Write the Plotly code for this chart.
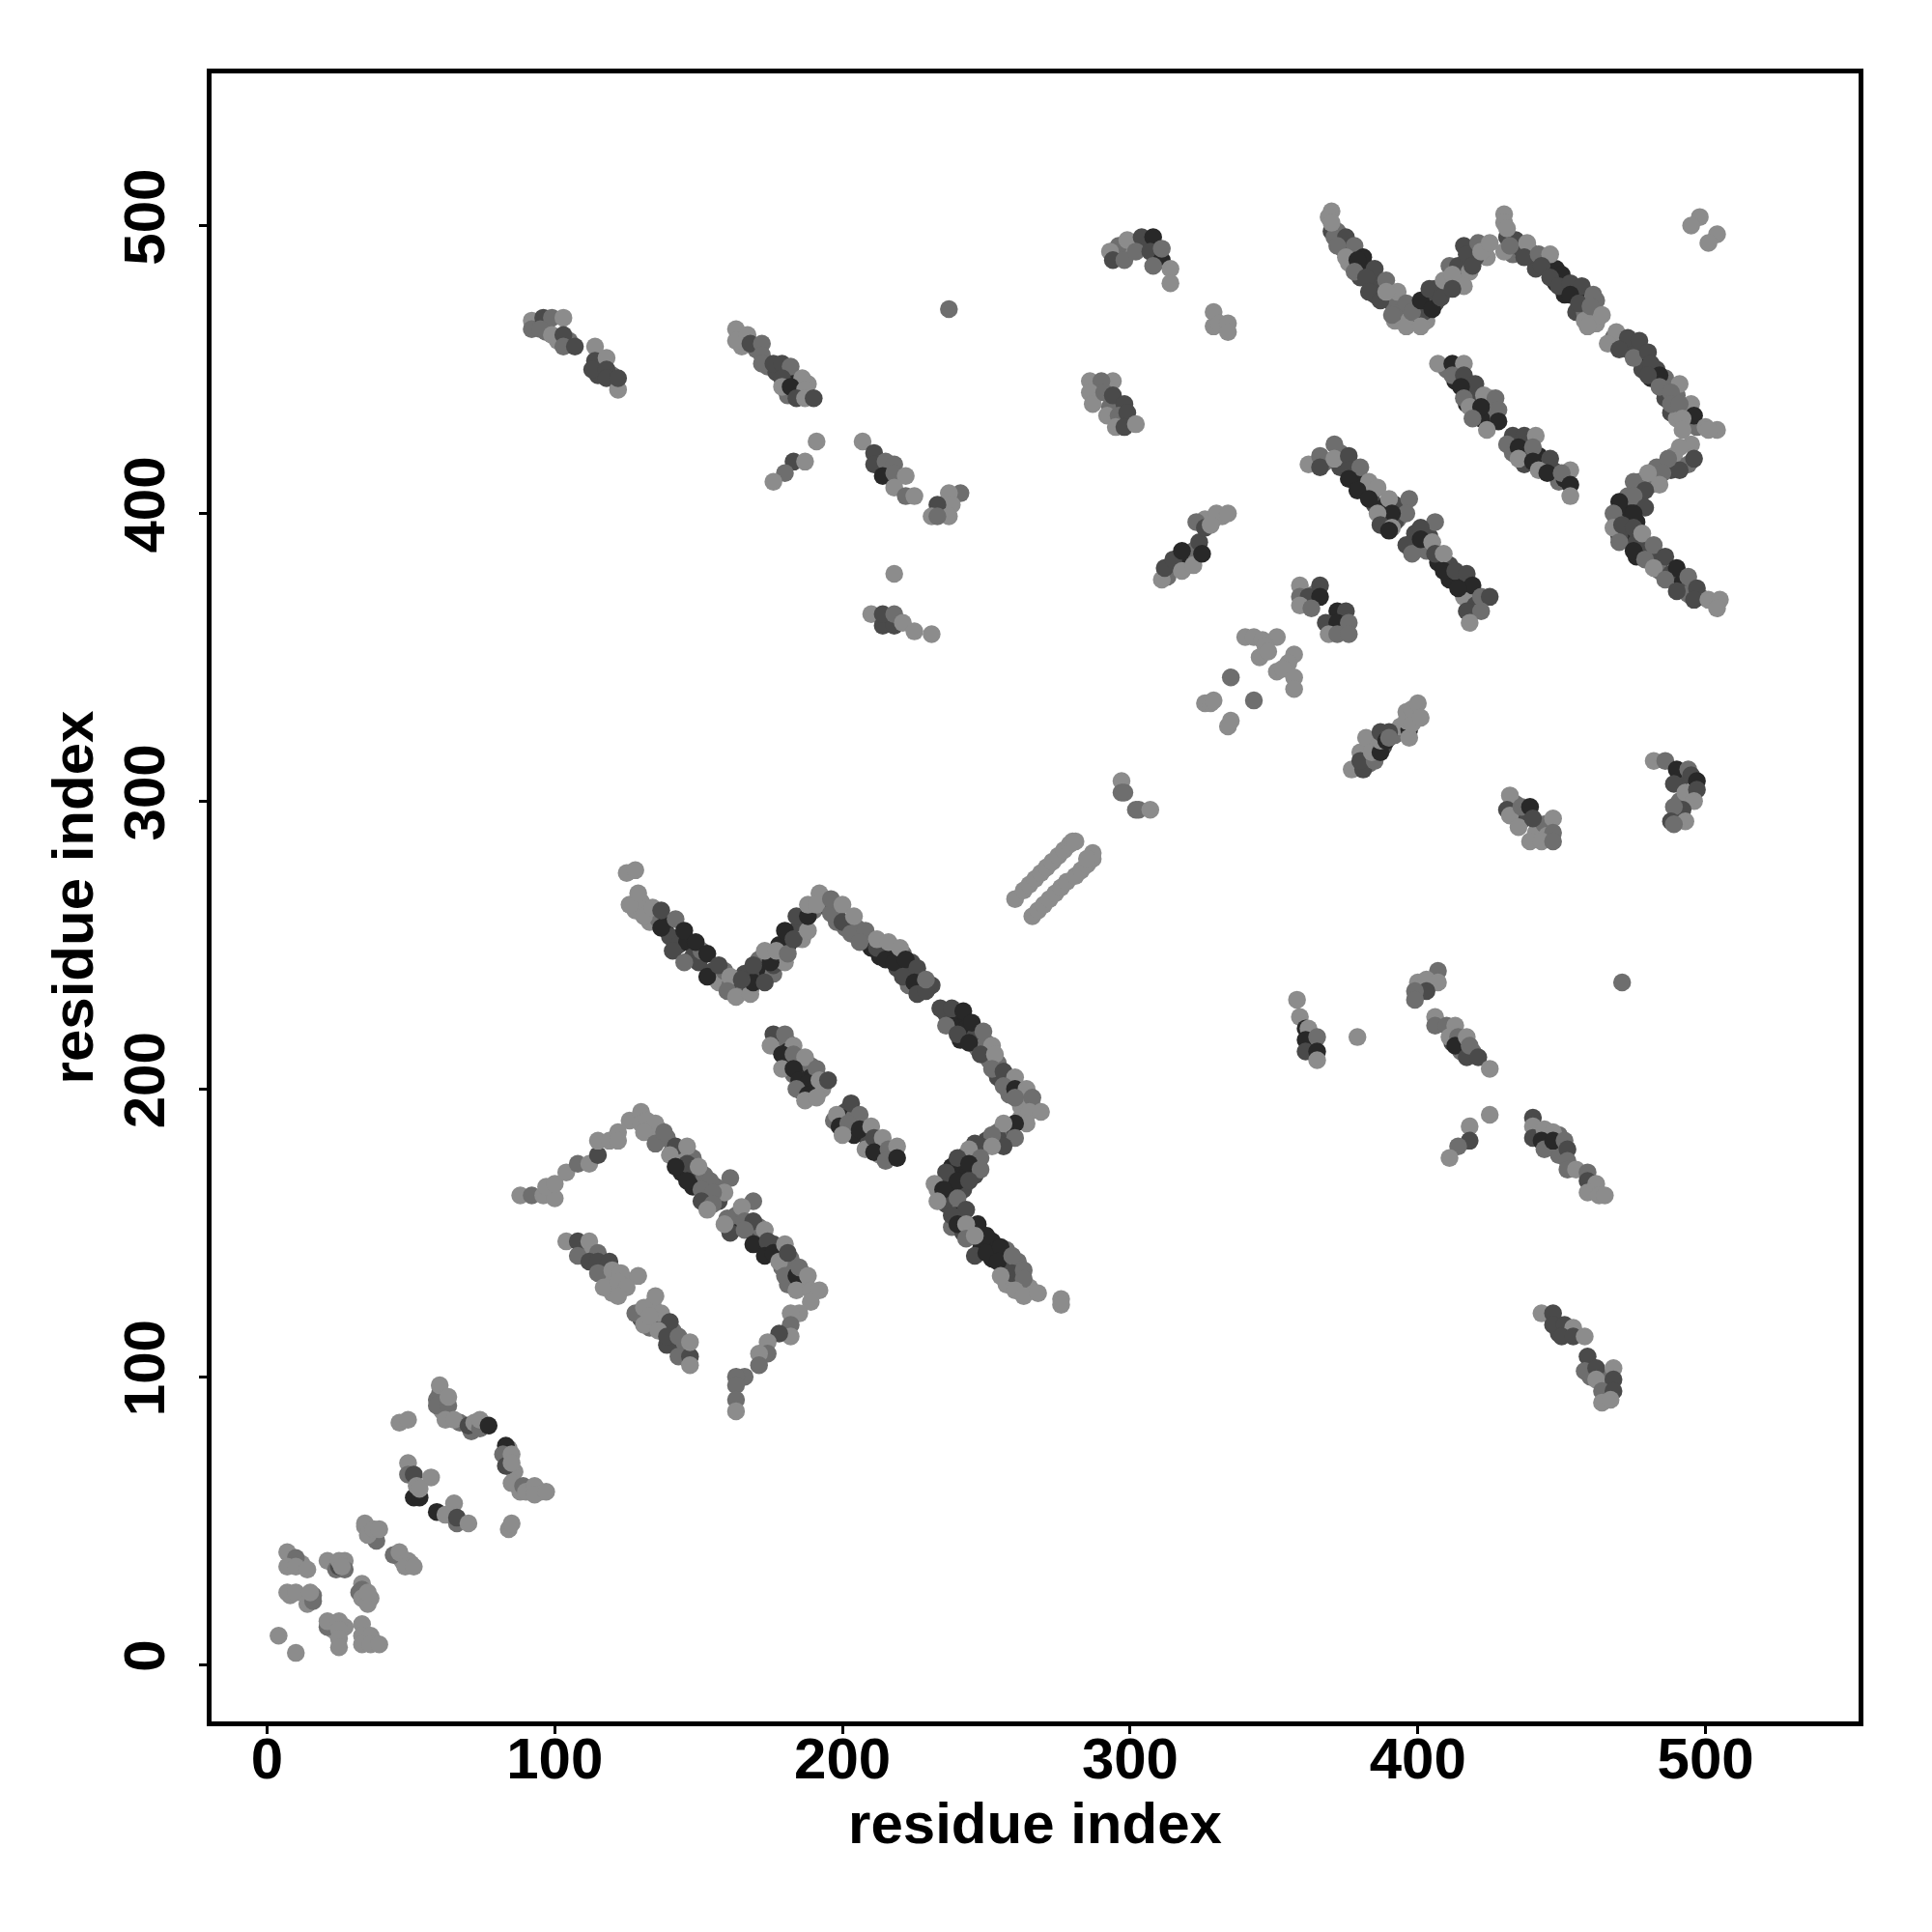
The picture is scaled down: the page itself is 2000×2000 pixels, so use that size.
import plotly.graph_objects as go

# each contact: (residue i, residue j, contact level 1-4)
# lower layer of contacts, seen mostly at the edges of the bands
under_low = [(9,36,1),(12,35,1),(8,24,1),(16,24,2),(23,35,1),(27,36,1),(27,33,2),(33,28,1),(34,24,1),(36,23,1),(23,12,1),(27,13,1),(35,8,1),(37,8,1),(36,47,1),(37,46,1),(47,36,1),(50,35,1),(60,94,2),(61,88,1),(67,84,2),(71,81,2),(84,75,1),(86,67,1),(88,60,1),(95,60,1)]
under_arc_a = [(128,262,1),(130,265,1),(133,258,1),(136,259,2),(139,258,4),(140,253,3),(143,250,3),(146,251,4),(148,246,3),(150,244,3),(151,248,2),(155,241,3),(157,237,1),(159,241,2),(161,236,2),(164,235,3),(166,234,2),(166,240,3),(168,235,3),(171,240,3),(171,245,2),(174,241,4),(176,240,2),(176,243,3),(178,245,1),(178,250,4),(181,250,4),(180,244,1),(184,255,3),(186,257,3),(186,252,1),(190,262,2),(193,265,1),(195,263,3),(198,262,3),(198,258,2),(201,256,2),(205,256,2),(208,251,3),(210,252,2),(210,249,4),(213,246,4),(214,249,2),(217,247,4),(219,242,3),(221,247,2),(223,241,4),(224,244,3),(227,238,4),(228,236,3),(223,236,2),(231,236,3)]
under_arc_b = [(236,226,3),(240,225,4),(238,222,4),(243,221,4),(241,217,4),(246,218,3),(247,214,2),(250,216,2),(251,210,2),(254,209,2),(254,204,3),(258,203,2),(258,198,2),(262,198,2),(262,194,1),(266,194,1),(262,190,1),(258,186,3),(254,185,2),(254,183,3),(250,182,3),(246,181,3),(246,177,2),(243,177,3),(242,172,4),(246,170,3),(238,173,4),(236,168,3),(238,165,4),(242,165,3),(235,163,2),(233,165,1),(236,160,3),(241,158,2),(240,156,4),(238,152,2),(242,150,3),(245,151,4),(248,147,3),(249,146,2),(252,147,4),(248,144,4),(252,141,4),(257,139,3),(257,144,2),(261,140,2),(261,133,1),(265,131,1),(257,132,1)]
under_inner_up = [(178,216,3),(181,216,4),(178,214,2),(181,213,4),(185,209,3),(181,209,4),(187,206,4),(189,208,2),(183,205,2),(189,204,4),(186,199,3),(190,199,4),(193,200,1),(186,202,4),(201,192,3),(200,190,4),(204,189,4),(197,189,2),(204,184,4),(208,184,4),(209,181,3),(213,180,3),(216,177,4),(213,177,1),(218,178,1),(204,190,2)]
under_sheet = [(136,186,1),(139,183,2),(141,179,2),(143,176,3),(144,178,1),(148,176,2),(144,171,4),(148,170,3),(148,166,4),(152,170,2),(152,163,3),(156,166,2),(157,161,3),(153,162,2),
 (163,152,4),(163,156,2),(168,152,2),(171,149,3),(171,152,2),(176,146,3),(174,143,4),(178,141,3),(177,145,3),(179,138,2),(182,141,2),(183,137,2),(181,132,2),(186,136,1),(186,132,1),
 (110,144,2),(113,143,1),(117,138,2),(121,135,1),(119,133,1),(120,129,1),(124,134,1),(130,120,3),(133,117,2),(134,125,1),(138,118,3),(141,112,3),(141,116,2),(145,110,3),(145,112,2)]
under_arc_c = [(370,498,3),(372,498,2),(374,492,3),(376,487,1),(378,490,4),(380,486,4),(380,482,3),(383,485,4),(385,481,3),(385,476,3),(387,479,3),(390,474,3),(392,472,2),(392,467,1),(394,470,2),(397,467,1),(400,468,4),(403,467,1),(402,470,3),(403,474,4),(406,473,3),(408,478,1),(406,478,3),(414,482,1),(411,486,2),(414,486,3),(418,484,1),(416,493,3),(424,489,1),(420,489,3),(431,496,3),(433,490,2),(436,492,3),(439,491,2),(441,485,3),(444,488,3),(448,485,4),(448,480,4),(451,476,4),(451,480,3),(455,476,4),(455,470,3),(458,470,2),(462,474,2),(458,467,1),(462,466,1)]
under_arc_d = [(468,461,2),(470,461,3),(473,457,3),(476,457,3),(478,453,4),(478,450,3),(483,450,3),(481,447,4),(486,447,2),(486,440,3),(490,441,2),(488,435,3),(493,436,3),(490,433,1),(494,431,2),(497,430,2),(489,420,1),(494,417,2),(488,415,3),(483,416,2),(481,410,2),(477,411,2),(477,405,3),(472,403,4),(472,399,4),(473,406,2),(476,397,4),(469,397,2),(473,392,4),(470,392,3),(476,390,3),(478,388,3),(476,385,4),(481,385,3),(484,383,3),(484,380,2),(488,379,3),(492,376,4),(493,373,3),(494,372,2),(498,371,2)]
under_far = [(410,450,2),(414,450,3),(413,446,4),(418,442,3),(417,438,4),(420,440,3),(424,437,3),(425,433,2),(422,433,4),(425,440,1),(434,424,3),(438,424,3),(433,421,2),(438,420,3),(442,420,4),(437,417,3),(444,416,2),(447,415,3),(449,411,2),(451,412,4)]
under_center = [(368,418,2),(373,421,2),(373,416,3),(378,413,3),(380,412,4),(381,408,3),(384,407,2),(385,403,3),(388,402,4),(392,403,3),(393,398,2),(388,398,3),(392,397,3),(404,392,3),(399,393,3),(403,387,2),(407,383,4),(411,382,3),(411,377,4),(415,377,4),(418,373,2),(419,370,2),(416,371,1),(420,368,3)]
under_misc = [(383,313,2),(388,319,3),(392,323,2),(383,320,2),(394,326,1),(397,329,2),(399,330,1),(396,331,1),(313,378,2),(316,382,2),(320,384,4),(322,387,2),(326,398,1),(329,398,1),(332,399,1),
 (94,466,2),(97,463,2),(101,460,1),(105,460,2),(116,452,2),(115,448,3),(120,448,2),(165,458,1),(170,457,2),(174,451,2),(177,449,3),(181,448,2),(183,447,4),(184,443,2),(181,441,2),(188,445,1),
 (434,299,2),(437,294,3),(441,289,1),(444,292,2),(445,288,1),(491,307,3),(495,302,2),(491,300,2),(491,295,1),(296,490,1),(300,491,1),(305,493,3),(296,493,2),(288,443,2),(293,437,2),(296,437,2),
 (361,369,3),(364,372,2),(370,360,4),(374,360,3),(373,364,4),(363,216,4),(363,213,2),(412,216,3),(415,213,2),(419,213,2),(442,184,2),(449,184,2),(446,180,3),(449,177,2),(460,165,1),(449,115,3),(452,116,1),(460,100,2),(466,97,3),(466,100,2)]

corner_low = [(4,10,1),(10,4,1),(7,39,1),(10,37,2),(7,34,1),(10,34,1),(14,33,1),(7,25,1),(10,25,1),(14,21,1),(16,22,2),(15,25,1),
 (21,36,1),(24,33,2),(25,34,3),(25,36,1),(26,34,1),(33,26,2),(32,25,2),(33,23,1),(35,21,1),(35,25,1),(21,13,2),(21,15,1),(25,15,1),(25,12,1),(25,9,1),(25,6,1),
 (33,14,1),(33,10,1),(36,10,1),(33,7,1),(36,7,1),(39,7,1),(38,43,2),(34,49,1),(34,48,1),(35,45,1),(37,47,1),(39,47,1),
 (44,38,2),(46,39,1),(49,36,1),(48,34,1),(51,34,1),(46,84,1),(49,85,1)]
corner_mid = [(59,92,2),(59,90,2),(60,97,1),(63,90,2),(63,93,1),(62,85,1),(65,85,1),(70,83,3),(72,84,1),(74,82,2),(74,85,1),(77,83,4),
 (83,76,4),(82,73,2),(83,69,3),(85,73,1),(85,70,1),(85,63,1),(89,62,2),(90,60,1),(93,62,1),(93,59,1),(97,60,1),
 (49,70,1),(49,66,2),(51,66,3),(57,65,1),(51,58,4),(53,58,4),(52,62,1),(53,61,1),(59,53,4),(62,52,1),(65,56,1),(66,49,2),(66,51,3),(70,49,1),(84,47,1),(85,49,1)]
sheet_left = [(88,163,1),(92,163,2),(96,163,1),(100,162,1),(97,166,1),(100,167,1),(104,171,1),(108,174,2),(112,174,1),(115,177,3),(115,182,1),(119,182,1),(122,185,1),(122,182,1),
 (126,189,1),(130,192,1),(130,188,1),(132,189,1),(135,188,1),(131,185,1),(135,181,2),(138,185,2),(142,180,3),(146,180,1),(140,177,1),(146,174,3),(142,173,4),(150,173,1),
 (146,168,4),(154,168,2),(161,169,2),(159,164,1),(151,165,2),(155,164,2),(151,161,3),(155,160,2),(153,158,1)]
sheet_right = [(169,161,2),(165,159,1),(161,150,3),(160,155,2),(159,153,1),(166,154,2),(169,154,3),(166,151,2),(173,151,1),(169,146,4),(174,147,3),(173,142,4),(176,143,4),(180,146,1),(178,140,1),(181,143,3),
 (180,135,2),(184,135,4),(185,138,2),(188,135,1),(184,130,1),(189,130,1),(192,130,1),(189,126,1),(185,122,1),(182,122,1),(182,118,2),(182,114,1),(178,115,3),(174,112,1),(174,108,2),(171,108,1),(171,104,2),
 (166,100,2),(163,100,2),(163,97,2),(163,92,2),(163,88,1)]
inner_low_a = [(104,147,1),(108,147,3),(112,147,1),(108,142,2),(115,143,2),(112,140,3),(115,140,3),(119,140,3),(115,136,2),(120,137,1),(123,136,1),(117,131,1),(122,133,1),(129,135,1),(125,131,1),(122,128,1)]
inner_low_b = [(135,128,1),(128,122,2),(131,124,1),(131,118,1),(137,122,1),(133,121,1),(140,119,3),(136,116,1),(139,111,3),(139,114,3),(143,114,2),(143,107,2),(147,107,3),(147,112,1),(147,104,1)]
arc_a = [(125,275,1),(128,276,1),(126,264,1),(129,268,1),(131,260,1),(134,263,1),(137,256,4),(137,262,3),(142,259,2),(141,248,3),(145,255,4),(149,251,4),(145,244,2),(153,247,4),(153,239,4),(157,243,3),
 (161,239,1),(160,234,2),(163,232,1),(168,233,1),(169,237,4),(165,238,3),(169,243,3),(173,237,3),(175,244,4),(173,248,1),(177,248,1),(181,247,2),(180,255,4),(183,252,3),(188,255,1),(184,260,3),(188,260,4),(188,264,1),(192,268,1),(191,264,1),
 (196,261,2),(196,266,2),(200,264,1),(200,258,3),(204,260,1),(203,254,2),(208,255,2),(206,251,2),(212,249,3),(212,252,1),(215,245,4),(216,251,1),(218,244,4),(220,249,1),(222,245,4),(221,239,3),(226,242,3),(225,237,4),(226,233,3),(229,234,3),(229,238,2)]
arc_b = [(234,228,3),(238,228,3),(242,227,4),(245,223,4),(236,222,2),(240,219,3),(244,216,4),(249,220,2),(252,215,1),(248,212,3),(253,212,1),(252,207,2),(256,206,3),(260,204,1),(256,201,2),(260,200,4),(264,200,1),(260,197,2),(266,197,2),(265,192,1),(269,192,1),
 (264,188,1),(260,188,4),(256,188,1),(260,183,2),(256,180,3),(252,184,2),(248,180,3),(244,179,1),(252,180,1),(240,176,3),(248,176,2),(244,174,4),(236,171,3),(248,172,2),(240,168,4),(244,168,3),(232,167,1),(235,165,4),(240,162,2),(233,161,1),
 (243,158,3),(238,156,3),(240,153,4),(247,153,4),(243,153,1),(243,148,2),(250,149,4),(246,149,1),(246,142,3),(250,143,4),(255,145,4),(254,140,4),(259,142,2),(259,136,3),(263,137,2),(263,134,2),(255,135,1),(260,130,1),(263,128,1),(268,129,1),(276,127,1),(276,125,1)]
inner_up_a = [(176,219,3),(180,219,2),(175,215,1),(183,215,1),(179,212,4),(183,212,2),(187,211,1),(179,207,1),(183,207,4),(191,207,2),(185,203,4),(188,202,4),(184,200,2),(192,203,1),(188,198,4),(195,203,3),(187,196,1),(191,197,1)]
inner_up_b = [(203,195,3),(198,191,1),(206,191,2),(199,187,4),(202,188,2),(200,184,1),(206,186,4),(210,187,1),(208,179,1),(211,183,3),(214,183,1),(211,178,4),(216,179,2),(219,180,1),(215,175,2),(219,176,4)]
strand_one = [(260,266,1),(263,269,1),(265,271,1),(267,273,1),(269,275,1),(271,277,1),(273,279,1),(275,281,1),(277,283,1),(279,285,1),(280,286,1),(281,286,1)]
strand_two = [(266,260,1),(268,262,1),(270,264,1),(272,266,1),(274,268,1),(276,270,1),(278,272,1),(281,274,1),(283,276,1),(285,278,1),(287,280,1),(287,282,1),(285,280,1)]
linker = [(297,307,1),(297,303,2),(298,303,2),(302,297,2),(303,297,2),(307,297,1),(326,334,1),(328,334,1),(329,335,1),(334,326,1),(335,328,1),(335,343,2),(343,335,2),
 (340,357,1),(343,357,1),(346,356,1),(351,357,1),(347,354,1),(345,350,1),(348,352,1),(357,351,1),(355,348,1),(351,345,1),(353,346,1),(357,343,1),(357,339,1)]
block_365 = [(359,375,1),(359,371,2),(362,371,3),(359,368,1),(366,375,3),(366,371,4),(363,367,2),(372,366,4),(375,366,3),(368,362,3),(372,362,4),(376,362,2),(369,358,1),(372,358,2),(376,358,2)]
band_385 = [(377,311,1),(381,311,3),(380,317,1),(380,314,3),(385,314,2),(382,322,1),(384,317,1),(387,317,4),(387,321,1),(387,324,3),(390,324,3),(389,321,4),(390,322,2),(397,325,4),(396,328,1),(397,322,1),(398,327,1),(398,332,1),(400,334,1),(401,329,1)]
right_mid_a = [(358,231,1),(359,225,1),(361,221,4),(362,221,1),(361,217,4),(365,218,2),(361,213,3),(365,213,4),(365,210,1),(379,218,1),
 (407,241,2),(400,237,1),(403,238,1),(407,237,1),(403,234,3),(399,234,2),(399,231,2),
 (406,225,1),(406,222,2),(410,222,2),(413,222,1),(411,218,1),(414,218,2),(413,215,4),(417,218,1),(417,211,3),(418,215,2),(421,211,3),(425,207,1)]
right_mid_b = [(425,191,1),(418,187,1),(418,182,3),(414,180,2),(411,176,1),(440,190,3),(440,187,1),(440,183,3),(444,186,1),(447,185,1),(443,182,4),(444,179,2),(447,182,4),(451,182,2),(452,179,3),(452,175,2),(452,172,2),(455,172,1),(459,171,2),(459,168,3),(462,167,1),(459,164,1),(463,163,1),(465,163,1)]
right_low = [(443,122,1),(447,122,3),(447,118,3),(451,118,3),(454,117,1),(450,114,3),(454,114,3),(458,114,1),(459,107,3),(458,102,2),(462,103,3),(468,103,1),(462,99,1),(468,99,3),(464,95,2),(468,95,3),(464,91,1),(467,92,1),(471,237,2)]
block_440 = [(432,302,1),(431,297,3),(432,295,1),(436,298,2),(439,298,4),(435,291,1),(440,294,3),(439,286,1),(447,294,1),(447,289,2),(443,286,1),(447,286,2)]
block_490 = [(482,314,1),(486,314,2),(490,311,4),(494,311,2),(489,306,3),(495,309,3),(497,307,4),(493,303,1),(497,304,3),(496,300,1),(492,297,3),(489,298,2),(488,293,3),(493,293,1),(489,292,2)]
block_300 = [(293,491,1),(294,488,3),(298,488,2),(299,495,1),(304,496,3),(308,496,4),(302,491,2),(307,491,3),(311,488,4),(311,492,2),(308,486,2),(314,485,1),(314,480,1),
 (329,470,1),(329,465,1),(331,466,1),(334,466,1),(334,463,1)]
block_290 = [(286,446,1),(294,446,1),(290,446,2),(286,442,1),(287,438,1),(291,442,2),(294,441,3),(292,434,1),(298,438,3),(296,434,2),(299,435,3),(295,430,1),(298,430,3),(302,431,1)]
arc_c = [(371,496,2),(375,496,3),(372,493,2),(378,493,2),(370,505,1),(369,503,1),(370,501,1),(375,489,1),(381,489,4),(379,488,4),(378,484,2),(385,485,3),(382,482,3),(389,481,2),(383,477,3),(387,474,3),(393,477,1),(389,477,1),(396,473,2),(391,469,2),(396,465,1),(398,470,2),(401,465,1),(401,474,4),(405,471,4),(404,478,3),(408,475,3),(409,481,1),(412,483,1),(416,479,1),(412,478,3),(417,490,3),(419,486,3),(421,494,2),(422,491,1),(425,494,1),
 (430,491,1),(434,495,3),(430,504,1),(430,501,1),(431,499,1),(432,493,2),(438,494,1),(437,489,3),(442,490,2),(446,490,1),(443,486,3),(450,483,4),(446,482,3),(449,479,3),(453,480,3),(457,479,3),(453,476,4),(456,473,3),(461,476,2),(460,472,2),(459,465,1),(464,469,1)]
arc_d = [(469,463,1),(466,459,1),(473,461,3),(477,460,3),(470,457,3),(475,454,2),(480,456,3),(481,452,3),(484,448,4),(480,448,3),(484,444,2),(491,445,1),(488,442,2),(488,438,2),(495,438,1),(491,438,2),(496,434,4),(492,433,1),(492,429,1),(500,430,1),(504,429,1),(501,429,1),
 (495,424,1),(491,423,1),(496,419,3),(491,415,3),(487,419,2),(485,414,2),(480,414,1),(484,410,1),(475,411,2),(479,408,3),(475,406,2),(479,402,3),(475,400,4),(470,404,4),(468,400,2),(468,395,1),(471,396,3),(475,395,3),(478,393,1),(470,390,2),(475,387,4),(482,389,2),(479,384,2),(486,385,3),(482,381,1),(490,381,4),(486,377,2),(494,378,2),(490,373,3),(497,374,3),(496,370,3),(501,370,1),(505,370,1),(504,367,1)]
inner_far_a = [(407,452,1),(412,452,4),(416,452,1),(412,448,2),(416,448,3),(420,445,3),(415,444,4),(416,440,2),(423,441,1),(427,440,2),(418,437,1),(422,437,4),(428,436,2),(419,433,2),(428,432,4),(424,429,1)]
inner_far_b = [(433,427,3),(437,427,3),(441,427,1),(431,424,2),(435,423,4),(440,423,2),(435,419,1),(440,418,4),(446,419,3),(442,415,1),(445,414,4),(453,415,1),(450,414,2),(453,410,4),(453,406,1)]
center_a = [(362,417,1),(366,420,2),(366,416,3),(371,424,2),(371,419,1),(376,420,3),(376,415,3),(380,416,2),(376,412,4),(383,411,1),(379,408,4),(386,409,1),(383,405,4),(390,405,1),(397,405,2),(396,400,2),(391,400,4),(386,400,1),(387,396,3),(391,395,1),(390,394,4)]
center_b = [(406,397,2),(401,395,3),(396,389,3),(398,386,2),(401,391,4),(405,390,1),(406,386,3),(409,386,1),(409,380,4),(413,380,3),(417,379,3),(419,375,4),(414,374,4),(422,371,2),(425,371,3),(417,366,3),(422,366,2),(418,362,1)]
band_320 = [(311,377,1),(312,381,3),(315,384,3),(318,380,1),(318,387,4),(322,382,1),(324,390,3),(325,386,4),(323,397,2),(326,395,3),(330,400,1),(328,396,1),(334,400,1)]
far_corner = [(498,503,1),(495,500,1),(504,497,1),(501,494,1)]
top_a = [(92,467,1),(92,464,2),(96,468,3),(99,468,2),(103,468,1),(95,464,2),(99,462,1),(103,462,3),(103,458,2),(107,458,3),(114,458,1),(114,453,3),(118,454,1),(113,450,3),(118,450,3),(118,447,3),(122,443,1),(122,447,3)]
top_b = [(163,464,1),(163,460,1),(167,462,1),(168,459,3),(172,459,2),(172,455,2),(172,452,2),(176,452,3),(179,452,3),(182,451,2),(179,447,3),(186,447,1),(179,444,1),(182,444,4),(187,443,1),(184,440,3),(187,440,1),(190,440,3)]
top_c = [(191,425,1),(183,418,3),(187,418,1),(180,414,2),(176,411,1),(207,425,1),(211,421,3),(211,417,3),(215,418,2),(218,417,2),(214,413,4),(218,414,2),(222,413,1),(218,409,1),(222,406,2),(225,406,1),
 (241,407,2),(237,407,1),(238,403,1),(233,403,3),(237,399,1),(231,399,1),(233,399,2),(237,471,2),(218,379,1)]
top_d = [(210,365,1),(214,361,3),(218,361,3),(214,365,3),(218,365,2),(221,362,1),(225,359,1),(231,358,1)]

clusters = [under_low, under_arc_a, under_arc_b, under_inner_up, under_sheet, under_arc_c, under_arc_d, under_far, under_center, under_misc,
            corner_low, corner_mid, sheet_left, sheet_right, inner_low_a, inner_low_b, arc_a, arc_b, inner_up_a, inner_up_b,
            strand_one, strand_two, linker, block_365, band_385, right_mid_a, right_mid_b, right_low, block_440, block_490,
            block_300, block_290, arc_c, arc_d, inner_far_a, inner_far_b, center_a, center_b, band_320, far_corner, top_a, top_b, top_c, top_d]

x_ticks = [0, 100, 200, 300, 400, 500]
axis_label = "residue index"

contacts = [c for group in clusters for c in group]
font = dict(family="Liberation Sans", size=60, color="black", weight=700)

fig = go.Figure(go.Scatter(
    x=[c[0] for c in contacts], y=[c[1] for c in contacts], mode="markers", hoverinfo="skip",
    marker=dict(size=18.5, line_width=0, color=[c[2] for c in contacts], cmin=1, cmax=4,
                colorscale=[[0, "#8c8c8c"], [1/3, "#6e6e6e"], [2/3, "#4a4a4a"], [1, "#282828"]], showscale=False)))

axis = dict(tickmode="array", tickvals=x_ticks, ticktext=[str(v) for v in x_ticks], showgrid=False, zeroline=False,
            showline=True, mirror=True, linecolor="black", linewidth=5, ticks="outside", ticklen=8, tickwidth=3,
            tickcolor="black", tickfont=font, automargin=False,
            title=dict(text=axis_label, font=font))
fig.update_layout(
    width=2000, height=2000, autosize=False, paper_bgcolor="white", plot_bgcolor="white", showlegend=False,
    margin=dict(l=210.5, r=83.5, t=67.5, b=226, pad=0),
    xaxis=dict(axis, range=[-19.3, 553.2], ticklabelstandoff=-26),
    yaxis=dict(axis, range=[-19.8, 552.9], tickangle=-90, ticklabelstandoff=12),
)
fig.update_xaxes(title_standoff=12)
fig.update_yaxes(title_standoff=2)
fig.write_html("out.html")
